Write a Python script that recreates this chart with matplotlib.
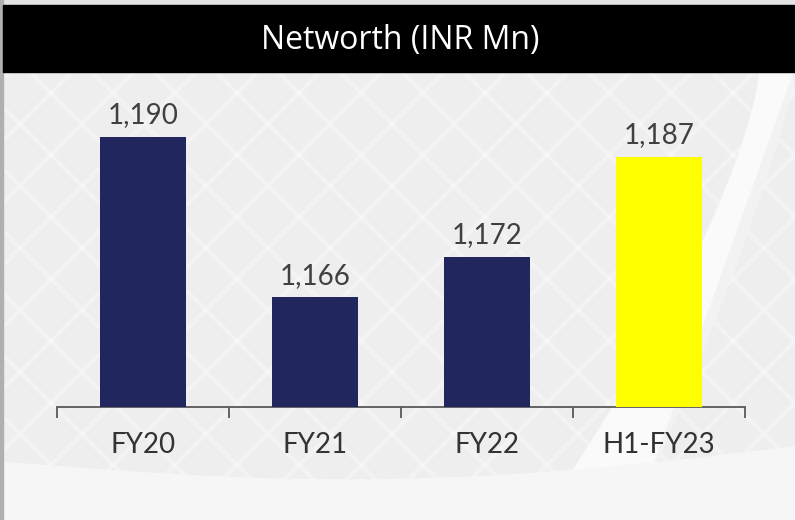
import numpy as np
import matplotlib.pyplot as plt
from matplotlib.patches import Rectangle, Polygon

# Chart data
categories = ['FY20', 'FY21', 'FY22', 'H1-FY23']
networth = [1190, 1166, 1172, 1187]
bar_colors = ['#21265E', '#21265E', '#21265E', '#FFFF00']
title = 'Networth (INR Mn)'

plt.rcParams['font.family'] = ['Lato', 'DejaVu Sans']

fig = plt.figure(figsize=(7.95, 5.2), dpi=100)
fig.patch.set_facecolor('#EEEEEE')

# Background decoration: subtle diamond lattice, white swoosh, light band at bottom
bg = fig.add_axes([0, 0, 1, 1], zorder=0)
bg.set_xlim(0, 795)
bg.set_ylim(520, 0)
bg.axis('off')
for c in np.arange(-600, 1400, 62):
    bg.plot([c, c + 500], [0, 500], color='white', lw=3, alpha=0.3)
    bg.plot([c, c - 500], [0, 500], color='white', lw=3, alpha=0.3)
t = np.linspace(0, 1, 60)
outer_x = 760 - 200 * t ** 1.4
inner_x = 795 - 150 * t ** 1.2
sy = 70 + 420 * t
swoosh = np.column_stack([np.r_[outer_x, inner_x[::-1]], np.r_[sy, sy[::-1]]])
bg.add_patch(Polygon(swoosh, closed=True, color='#FAFAFA', zorder=2))
bg.add_patch(Polygon(np.column_stack([np.r_[inner_x, 795], np.r_[sy, 70]]),
                     closed=True, color='#F2F2F2', zorder=2))
bx = np.linspace(0, 795, 50)
band_top = 462 + 25 * np.sin(bx / 795 * np.pi) - 15 * bx / 795
bg.fill_between(bx, band_top, 520, color='#F6F6F6', zorder=3)
bg.add_patch(Rectangle((0, 0), 795, 5, color='#E4E4E4', zorder=4))
bg.add_patch(Rectangle((0, 0), 3, 520, color='#B0B0B0', zorder=4))
# Title bar
bg.add_patch(Rectangle((3, 5), 792, 67, color='black', zorder=5))
bg.text(400, 40, title, color='white', fontsize=23, ha='center', va='center',
        family=['Open Sans', 'DejaVu Sans'], zorder=6)

# Bar chart
ax = fig.add_axes([57 / 795, 1 - 407 / 520, (745 - 57) / 795, (407 - 72) / 520], zorder=1)
ax.patch.set_alpha(0)
x = np.arange(len(categories))
bars = ax.bar(x, networth, width=0.5, color=bar_colors, zorder=3)
ax.set_ylim(1149.5, 1199.7)
ax.set_xlim(-0.5, len(categories) - 0.5)

for rect, val in zip(bars, networth):
    ax.annotate(f'{val:,}', (rect.get_x() + rect.get_width() / 2, val),
                xytext=(0, 6), textcoords='offset points', ha='center', va='bottom',
                fontsize=20, color='#404040')

for side in ['top', 'right', 'left']:
    ax.spines[side].set_visible(False)
ax.spines['bottom'].set_color('#595959')
ax.spines['bottom'].set_linewidth(1.3)
ax.set_yticks([])
ax.set_xticks(x)
ax.set_xticklabels(categories, fontsize=20, color='#333333')
ax.tick_params(axis='x', which='major', length=0, pad=18)
ax.set_xticks(np.arange(-0.5, len(categories)), minor=True)
ax.tick_params(axis='x', which='minor', length=8, width=1.3, color='#595959', direction='out')

fig.savefig('out.png', dpi=100, facecolor=fig.get_facecolor())
